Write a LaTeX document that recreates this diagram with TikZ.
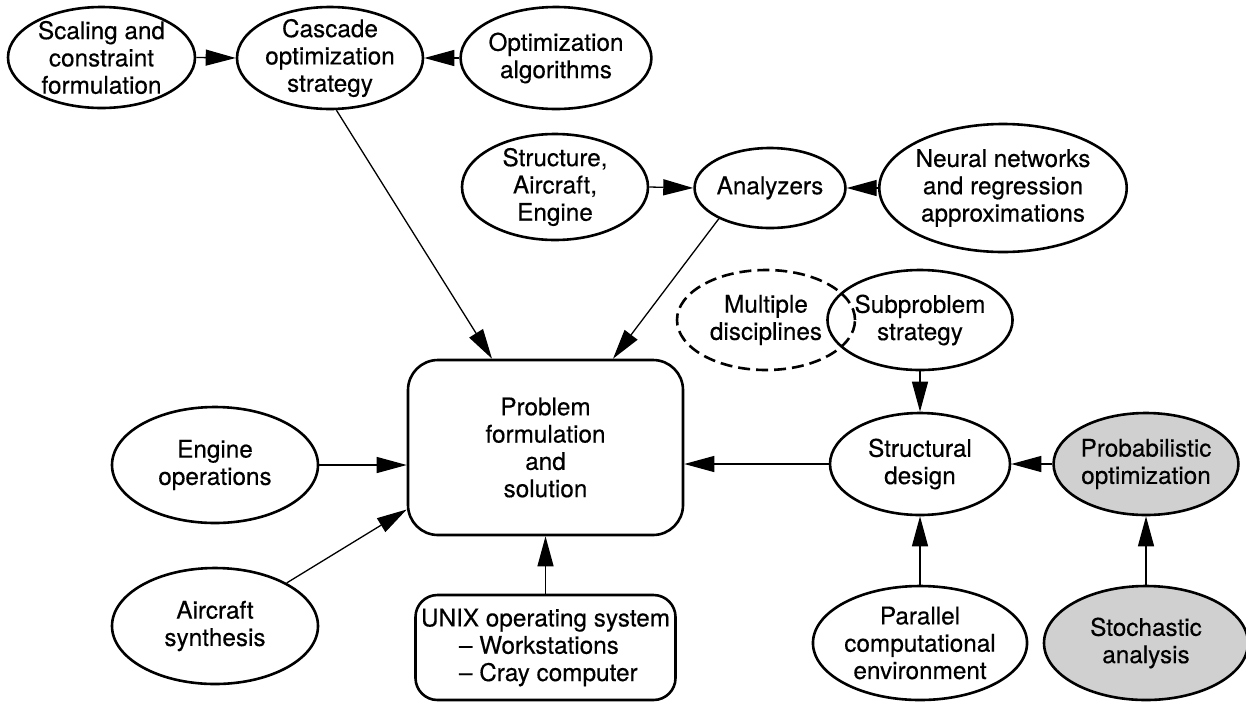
\documentclass[tikz,border=0pt]{standalone}
\usepackage{fontspec}
\setmainfont{TeX Gyre Heros}
\newfontfamily\lblfont{TeX Gyre Heros}[FakeBold=0.35]
\usetikzlibrary{shapes.geometric,arrows.meta,calc}
\definecolor{shade}{RGB}{208,208,208}
\begin{document}
\begin{tikzpicture}[x=1pt,y=-1pt,
  every node/.style={font=\lblfont\fontsize{24.3}{27.3}\selectfont, align=center},
  ell/.style 2 args={ellipse, draw, line width=2.6pt, inner sep=0pt, inner ysep=-6pt,
    minimum width=#1, minimum height=#2},
  gry/.style={fill=shade},
  dsh/.style={dash pattern=on 12pt off 6pt},
  rbox/.style={draw, line width=2.6pt, rounded corners=#1, inner sep=0pt},
  arr/.style={line width=1.3pt, -{Triangle[length=30pt,width=16pt]}}]
\useasboundingbox (0,0) rectangle (1246,702);

% top row
\node[ell={187pt}{101pt}] (scaling) at (101.5,57.5) {Scaling and\\constraint\\formulation};
\node[ell={186pt}{102pt}] (cascade) at (330,58) {Cascade\\optimization\\strategy};
\node[ell={188pt}{102pt}] (optim) at (556,58) {Optimization\\algorithms};

% second row
\node[ell={186pt}{106pt}] (structure) at (555,187) {Structure,\\Aircraft,\\Engine};
\node[ell={146pt}{80pt}] (analyzers) at (770,188) {Analyzers};
\node[ell={224pt}{128pt}] (neural) at (1003,188) {Neural networks\\and regression\\approximations};

% subproblem row
\node[ell={178pt}{100pt}, dsh] (multiple) at (766,320) {Multiple\\disciplines};
\node[ell={176pt}{100pt}] (subproblem) at (920,320) {Subproblem\\strategy};

% centre
\node[rbox=30pt, minimum width=275pt, minimum height=175pt] (problem) at (545.5,447.5)
  {Problem\\formulation\\and\\solution};
\node[rbox=22pt, minimum width=260pt, minimum height=105pt, align=left] (unix) at (545.5,647.5)
  {UNIX operating system\\\hspace*{38pt}– Workstations\\\hspace*{38pt}– Cray computer};

% left
\node[ell={206pt}{116pt}] (engine) at (215,465) {Engine\\operations};
\node[ell={206pt}{116pt}] (aircraft) at (215,626) {Aircraft\\synthesis};

% right
\node[ell={180pt}{102pt}] (structural) at (920,464) {Structural\\design};
\node[ell={178pt}{102pt}, gry] (prob) at (1146,464) {Probabilistic\\optimization};
\node[ell={208pt}{114pt}] (parallel) at (920,643) {Parallel\\computational\\environment};
\node[ell={204pt}{114pt}, gry] (stochastic) at (1146,643) {Stochastic\\analysis};

% connectors
\draw[arr] (scaling.east) -- (cascade.west);
\draw[arr] (optim.west) -- (cascade.east);
\draw[arr] (structure.east) -- (analyzers.west);
\draw[arr] (neural.west) -- (analyzers.east);
\draw[arr] (cascade.-83) -- ([xshift=-53.5pt]problem.north);
\draw[arr] (analyzers.211) -- ([xshift=67.5pt]problem.north);
\draw[arr] (subproblem.south) -- (structural.north);
\draw[arr] (prob.west) -- (structural.east);
\draw[arr] (parallel.north) -- (structural.south);
\draw[arr] (stochastic.north) -- (prob.south);
\draw[arr] (structural.west) -- (structural.west -| problem.east);
\draw[arr] (engine.east) -- (engine.east -| problem.west);
\draw[arr] (aircraft.31) -- ([yshift=-62pt]problem.west);
\draw[arr] (unix.north) -- (problem.south);
\end{tikzpicture}
\end{document}
